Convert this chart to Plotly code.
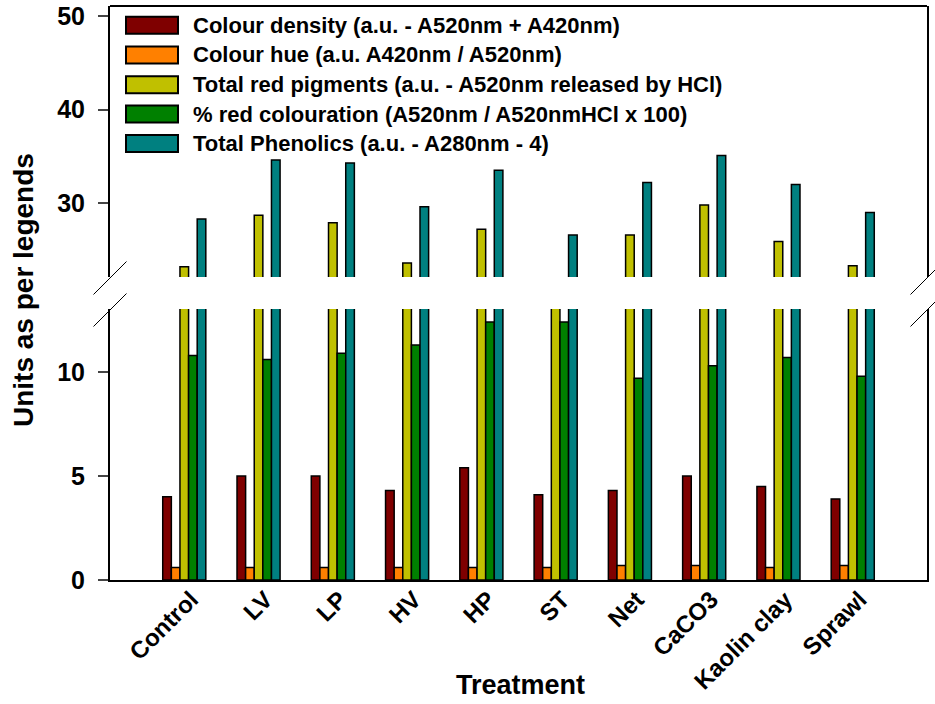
import plotly.graph_objects as go

categories = ["Control", "LV", "LP", "HV", "HP", "ST", "Net", "CaCO3", "Kaolin clay", "Sprawl"]
colour_density = [4.0, 5.0, 5.0, 4.3, 5.4, 4.1, 4.3, 5.0, 4.5, 3.9]
colour_hue = [0.6, 0.6, 0.6, 0.6, 0.6, 0.6, 0.7, 0.7, 0.6, 0.7]
total_red_pigments = [23.2, 28.7, 27.9, 23.6, 27.2, 20.0, 26.6, 29.8, 25.9, 23.3]
pct_red_colouration = [10.8, 10.6, 10.9, 11.3, 12.4, 12.4, 9.7, 10.3, 10.7, 9.8]
total_phenolics = [28.3, 34.6, 34.3, 29.6, 33.5, 26.6, 32.2, 35.1, 32.0, 29.0]

series_names = [
    "Colour density (a.u. - A520nm + A420nm)",
    "Colour hue (a.u. A420nm / A520nm)",
    "Total red pigments (a.u. - A520nm released by HCl)",
    "% red colouration (A520nm / A520nmHCl x 100)",
    "Total Phenolics (a.u. - A280nm - 4)",
]
series_values = [colour_density, colour_hue, total_red_pigments, pct_red_colouration, total_phenolics]
series_colors = ["#7F0000", "#FF8000", "#C0C000", "#008000", "#008080"]

FONT = "Arial, Liberation Sans, sans-serif"

fig = go.Figure()
for yax in ["y", "y2"]:
    for name, vals, col in zip(series_names, series_values, series_colors):
        fig.add_trace(go.Bar(
            x=categories, y=vals, name=name, xaxis="x", yaxis=yax,
            marker=dict(color=col, line=dict(color="black", width=1.5)),
            showlegend=False,
        ))

W, H = 935, 704
L, R, T, B = 110, 927, 6, 580
def px(x):
    return (x - L) / (R - L)
def py(y):
    return (B - y) / (B - T)

shapes = []
annotations = []
# top frame line of upper panel
shapes.append(dict(type="line", xref="paper", yref="paper", x0=0, x1=1, y0=1, y1=1,
                   line=dict(color="black", width=2)))
# break marks
for cx in [L, R]:
    for cy in [278, 310]:
        shapes.append(dict(type="line", xref="paper", yref="paper",
                           x0=px(cx - 16.5), y0=py(cy + 16.5), x1=px(cx + 16.5), y1=py(cy - 16.5),
                           line=dict(color="black", width=1)))
# custom legend
row_y = [25.3, 55.0, 84.7, 114.0, 143.5]
for name, col, ry in zip(series_names, series_colors, row_y):
    shapes.append(dict(type="rect", xref="paper", yref="paper",
                       x0=px(126), x1=px(178), y0=py(ry + 8.5), y1=py(ry - 8.5),
                       fillcolor=col, line=dict(color="black", width=2)))
    annotations.append(dict(xref="paper", yref="paper", x=px(191), y=py(ry), text=name,
                            showarrow=False, xanchor="left", yanchor="middle",
                            font=dict(family=FONT, size=22, color="black", weight="bold")))
# axis titles
annotations.append(dict(xref="paper", yref="paper", x=px(520), y=py(685), text="Treatment",
                        showarrow=False, xanchor="center", yanchor="middle",
                        font=dict(family=FONT, size=27, color="black", weight="bold")))
annotations.append(dict(xref="paper", yref="paper", x=px(23), y=py(290), text="Units as per legends",
                        showarrow=False, xanchor="center", yanchor="middle", textangle=-90,
                        font=dict(family=FONT, size=28, color="black", weight="bold")))

tickfont = dict(family=FONT, size=25, color="black", weight="bold")
xtickfont = dict(family=FONT, size=24, color="black", weight="bold")
yaxis_common = dict(ticks="outside", ticklen=10, tickwidth=2, showline=True, linewidth=2,
                    linecolor="black", mirror=True, tickfont=tickfont, showgrid=False,
                    zeroline=False, automargin=False, ticklabelstandoff=8,
                    ticklabeloverflow="allow")
fig.update_layout(
    width=W, height=H,
    margin=dict(l=L, r=W - R, t=T, b=H - B, autoexpand=False),
    paper_bgcolor="white", plot_bgcolor="white",
    barmode="group", bargap=0.42, bargroupgap=0.0,
    showlegend=False,
    xaxis=dict(type="category", range=[-1, 10], anchor="y", showline=True, linewidth=2,
               linecolor="black", ticks="", tickangle=-45, tickfont=xtickfont,
               showgrid=False, zeroline=False, automargin=False,
               ticklabelshift=7, ticklabelstandoff=-6),
    yaxis=dict(domain=[0, py(309)], range=[0, 13.03], tickvals=[0, 5, 10], **yaxis_common),
    yaxis2=dict(domain=[py(277), 1], range=[22.1, 51.07], tickvals=[30, 40, 50], anchor="x",
                **yaxis_common),
    shapes=shapes,
    annotations=annotations,
)

fig.write_html("out.html", config={"displayModeBar": False},
               post_script="document.body.style.margin='0';")
